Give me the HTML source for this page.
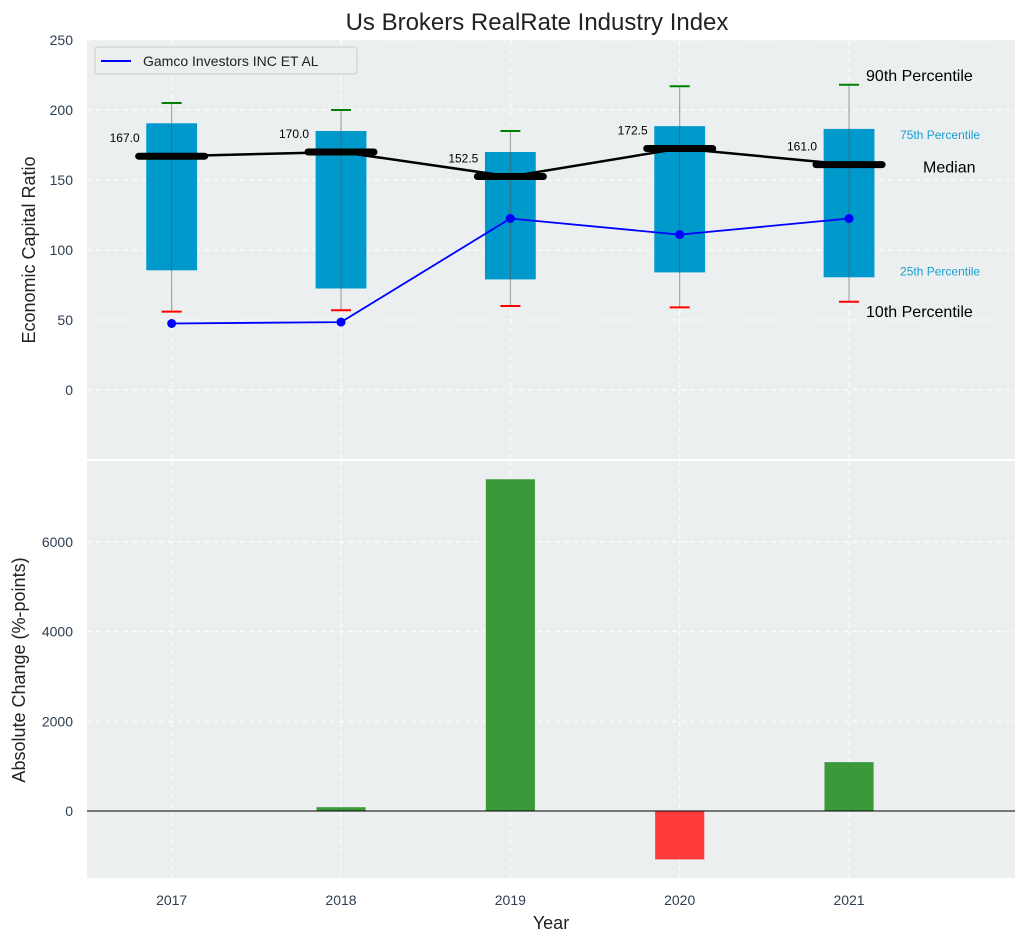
<!DOCTYPE html>
<html><head><meta charset="utf-8"><style>
body{margin:0;background:#fff;}
svg{display:block;font-family:"Liberation Sans","DejaVu Sans",sans-serif;}
</style></head><body>
<svg id="chart" width="1026" height="942" viewBox="0 0 1026 942"></svg>
<script>
const years=[2017,2018,2019,2020,2021];
const p90=[205,200,185,217,218];
const p75=[190.5,185,170,188.5,186.5];
const median=[167,170,152.5,172.5,161];
const p25=[85.5,72.5,79,84,80.5];
const p10=[56,57,60,59,63];
const company=[47.5,48.5,122.5,111,122.5];
const changes=[0,85,7400,-1080,1090];
const topTicks=[0,50,100,150,200,250];
const botTicks=[0,2000,4000,6000];

const svg=document.getElementById('chart');
const NS='http://www.w3.org/2000/svg';
function el(tag,attrs,parent,text){const e=document.createElementNS(NS,tag);for(const k in attrs)e.setAttribute(k,attrs[k]);if(text!==undefined)e.textContent=text;(parent||svg).appendChild(e);return e;}
const L=87,R=1015;
const x=v=>L+(v-2016.5)/(2021.98-2016.5)*(R-L);
const yT=v=>390-v*1.4;
const yB=v=>811-v*0.04483;

let g=el('g',{});
el('rect',{x:L,y:40,width:R-L,height:419,fill:'#ebeff0'},g);
let g2=el('g',{});
el('rect',{x:L,y:461,width:R-L,height:417,fill:'#ebeff0'},g2);

years.forEach(v=>{
 el('line',{x1:x(v),x2:x(v),y1:40,y2:459,stroke:'#fff','stroke-dasharray':'5,4','stroke-width':1},g);
 el('line',{x1:x(v),x2:x(v),y1:461,y2:878,stroke:'#fff','stroke-dasharray':'5,4','stroke-width':1},g2);
 const t=el('text',{x:x(v),y:905,'font-size':14,fill:'#2d3e50','text-anchor':'middle'},svg,String(v));
 
});
topTicks.forEach(v=>{
 el('line',{x1:L,x2:R,y1:yT(v),y2:yT(v),stroke:'#fff','stroke-dasharray':'5,4'},g);
 const t=el('text',{x:73,y:yT(v)+5,'font-size':14,fill:'#2d3e50','text-anchor':'end'},svg,String(v));
 
});
botTicks.forEach(v=>{
 el('line',{x1:L,x2:R,y1:yB(v),y2:yB(v),stroke:'#fff','stroke-dasharray':'5,4'},g2);
 const t=el('text',{x:73,y:yB(v)+5,'font-size':14,fill:'#2d3e50','text-anchor':'end'},svg,String(v));
 
});

const bw=0.3*(x(1)-x(0));
years.forEach((v,i)=>{
 const r=el('rect',{x:x(v)-bw/2,y:yT(p75[i]),width:bw,height:yT(p25[i])-yT(p75[i]),fill:'#0099cc'},g);
 
 el('line',{x1:x(v),x2:x(v),y1:yT(p90[i]),y2:yT(p10[i]),stroke:'#555','stroke-opacity':0.6,'stroke-width':1},g);
 const a=el('line',{x1:x(v)-10,x2:x(v)+10,y1:yT(p90[i]),y2:yT(p90[i]),stroke:'green','stroke-width':2},g);
 
 const b=el('line',{x1:x(v)-10,x2:x(v)+10,y1:yT(p10[i]),y2:yT(p10[i]),stroke:'red','stroke-width':2},g);
 
});
const mp=el('polyline',{points:years.map((v,i)=>x(v)+','+yT(median[i])).join(' '),fill:'none',stroke:'#000','stroke-width':2.5},g);

const mw=0.39*(x(1)-x(0));
years.forEach((v,i)=>{
 const m=el('line',{x1:x(v)-mw/2,x2:x(v)+mw/2,y1:yT(median[i]),y2:yT(median[i]),stroke:'#000','stroke-width':7,'stroke-linecap':'round'},g);
 
 const t=el('text',{x:x(v)-32,y:yT(median[i])-14,'font-size':12,fill:'#000','text-anchor':'end'},g,median[i].toFixed(1));
 
});
const cp=el('polyline',{points:years.map((v,i)=>x(v)+','+yT(company[i])).join(' '),fill:'none',stroke:'blue','stroke-width':1.8},g);

years.forEach((v,i)=>{const c=el('circle',{cx:x(v),cy:yT(company[i]),r:4.5,fill:'blue'},g);
 });

const last=years.length-1, ax=x(years[last]);
[['90th Percentile',ax+17,yT(p90[last])-4,16,'#000'],['75th Percentile',ax+51,yT(p75[last])+10,12,'#1a9fcf'],['Median',ax+74,yT(median[last])+8,16,'#000'],['25th Percentile',ax+51,yT(p25[last])-2,12,'#1a9fcf'],['10th Percentile',ax+17,yT(p10[last])+15,16,'#000']].forEach(a=>{
 const t=el('text',{x:a[1],y:a[2],'font-size':a[3],fill:a[4]},g,a[0]);
 
});

const lg=el('g',{});
el('rect',{x:95,y:47,width:262,height:27,rx:3,fill:'#ebeff0',stroke:'#ccc'},lg);
el('line',{x1:101,x2:131,y1:61,y2:61,stroke:'blue','stroke-width':2},lg);
el('text',{x:143,y:66,'font-size':14,fill:'#222'},lg,'Gamco Investors INC ET AL');

const bbw=0.29*(x(1)-x(0));
years.forEach((v,i)=>{
 const c=changes[i];
 const r=el('rect',{x:x(v)-bbw/2,y:Math.min(yB(c),yB(0)),width:bbw,height:Math.abs(yB(c)-yB(0)),fill:c>=0?'#3a9a3a':'#ff3b3b'},g2);
 
});
el('line',{x1:L,x2:R,y1:yB(0),y2:yB(0),stroke:'#000','stroke-width':1},g2);

let t=el('text',{x:537,y:30,'font-size':24,fill:'#222','text-anchor':'middle'},svg,'Us Brokers RealRate Industry Index');

t=el('text',{x:0,y:0,'font-size':18,fill:'#222','text-anchor':'middle',transform:'translate(35,250) rotate(-90)'},svg,'Economic Capital Ratio');

t=el('text',{x:0,y:0,'font-size':18,fill:'#222','text-anchor':'middle',transform:'translate(25,670) rotate(-90)'},svg,'Absolute Change (%-points)');

t=el('text',{x:551,y:929,'font-size':18,fill:'#222','text-anchor':'middle'},svg,'Year');

</script>
</body></html>
